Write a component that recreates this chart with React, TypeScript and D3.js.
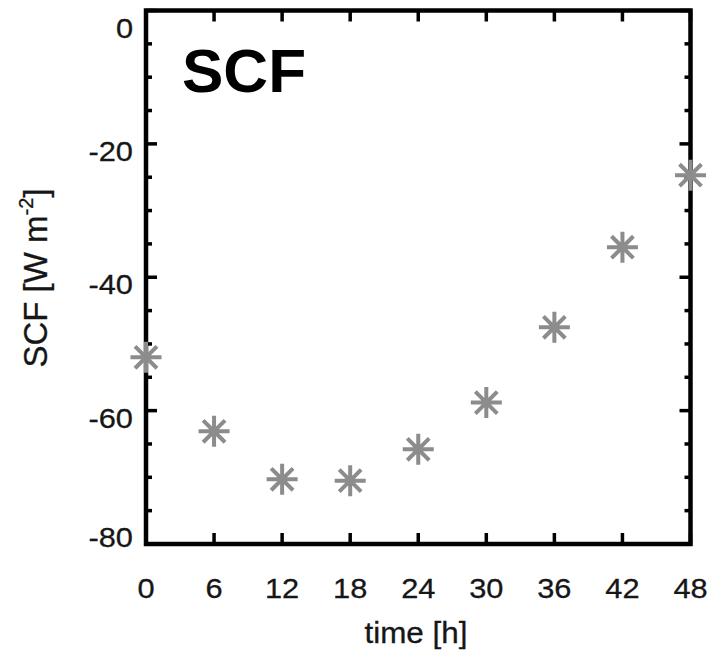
import React from "react";
import * as d3 from "d3";

const times = [0, 6, 12, 18, 24, 30, 36, 42, 48];
const scfValues = [-52, -63.1, -70.3, -70.5, -65.8, -58.8, -47.5, -35.5, -24.7];
const xTickValues = [0, 6, 12, 18, 24, 30, 36, 42, 48];
const yTickValues = [0, -20, -40, -60, -80];
const yMinorValues = [-5, -10, -15, -25, -30, -35, -45, -50, -55, -65, -70, -75];

const W = 709;
const H = 651;
const left = 146;
const right = 690.5;
const top = 10.5;
const bottom = 544;
const FONT = "'Liberation Sans', Arial, Helvetica, sans-serif";

export default function App() {
  const x = d3.scaleLinear().domain([0, 48]).range([left, right]);
  const y = d3.scaleLinear().domain([0, -80]).range([top, bottom]);
  const axisW = 4.5;
  const tickW = 3.5;
  const majorLen = 11;
  const minorLen = 6;
  const markerR = 15.5;
  const markerColor = "#8c8c8c";
  const sx = 1.08;
  const textCol = "#161616";

  const star = (cx: number, cy: number, i: number) => {
    const r = markerR;
    const d = r * Math.SQRT1_2;
    const path = d3.path();
    path.moveTo(cx - r, cy); path.lineTo(cx + r, cy);
    path.moveTo(cx, cy - r); path.lineTo(cx, cy + r);
    path.moveTo(cx - d, cy - d); path.lineTo(cx + d, cy + d);
    path.moveTo(cx - d, cy + d); path.lineTo(cx + d, cy - d);
    return <path key={i} d={path.toString()} stroke={markerColor} strokeWidth={4} fill="none" />;
  };

  return (
    <svg width={W} height={H} style={{ position: "absolute", left: 0, top: 0, background: "#fff" }}
      fontFamily={FONT}>
      <rect x={0} y={0} width={W} height={H} fill="#fff" />
      {/* x ticks bottom & top */}
      {xTickValues.map((v) => (
        <g key={"xt" + v}>
          <line x1={x(v)} x2={x(v)} y1={bottom} y2={bottom - majorLen} stroke="#000" strokeWidth={tickW} />
          <line x1={x(v)} x2={x(v)} y1={top} y2={top + majorLen} stroke="#000" strokeWidth={tickW} />
          <text transform={`translate(${x(v)},598) scale(${sx},1)`} fontSize={28.5} textAnchor="middle"
            fill={textCol} stroke={textCol} strokeWidth={0.3}>{v}</text>
        </g>
      ))}
      {/* y ticks left & right */}
      {yTickValues.map((v) => (
        <g key={"yt" + v}>
          <line x1={left} x2={left + majorLen} y1={y(v)} y2={y(v)} stroke="#000" strokeWidth={tickW} />
          <line x1={right} x2={right - majorLen} y1={y(v)} y2={y(v)} stroke="#000" strokeWidth={tickW} />
          <text transform={`translate(133,${Math.max(top + 27, Math.min(y(v) + 17, bottom + 3))}) scale(${sx},1)`}
            fontSize={28.5} textAnchor="end" fill={textCol} stroke={textCol} strokeWidth={0.3}>{v}</text>
        </g>
      ))}
      {yMinorValues.map((v) => (
        <g key={"ym" + v}>
          <line x1={left} x2={left + minorLen} y1={y(v)} y2={y(v)} stroke="#000" strokeWidth={tickW} />
          <line x1={right} x2={right - minorLen} y1={y(v)} y2={y(v)} stroke="#000" strokeWidth={tickW} />
        </g>
      ))}
      {/* frame */}
      <rect x={left} y={top} width={right - left} height={bottom - top} fill="none" stroke="#000"
        strokeWidth={axisW} />
      {/* title */}
      <text x={182} y={92} fontSize={62} fontWeight="bold" fill="#000">SCF</text>
      {/* axis titles */}
      <text x={416} y={643} fontSize={29} textAnchor="middle" fill={textCol} textLength={103}
        lengthAdjust="spacingAndGlyphs" stroke={textCol} strokeWidth={0.3}>time [h]</text>
      <text transform={`translate(47,278) rotate(-90)`} fontSize={33} textAnchor="middle" fill={textCol}
        stroke={textCol} strokeWidth={0.3}>
        SCF [W m<tspan fontSize={20} dy={-14}>-2</tspan><tspan dy={14}>]</tspan>
      </text>
      {/* markers */}
      {times.map((t, i) => star(x(t), y(scfValues[i]), i))}
    </svg>
  );
}
